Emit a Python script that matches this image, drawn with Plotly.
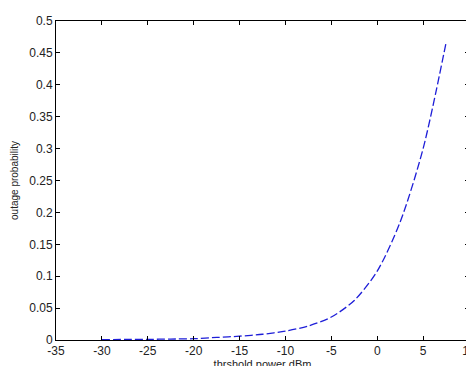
import plotly.graph_objects as go

# threshold power (dBm) and outage probability
threshold_dbm = [-30, -27.5, -25, -22.5, -20, -17.5, -15, -12.5, -10, -7.5, -5, -2.5, 0, 2.5, 5, 7.5]
outage_prob = [0.0005, 0.0008, 0.001, 0.0015, 0.002, 0.004, 0.006, 0.009, 0.014, 0.022, 0.036, 0.062, 0.108, 0.185, 0.300, 0.466]

x_ticks = [-35, -30, -25, -20, -15, -10, -5, 0, 5, 10]
x_tick_labels = ["-35", "-30", "-25", "-20", "-15", "-10", "-5", "0", "5", "10"]
y_ticks = [0, 0.05, 0.1, 0.15, 0.2, 0.25, 0.3, 0.35, 0.4, 0.45, 0.5]
y_tick_labels = ["0", "0.05", "0.1", "0.15", "0.2", "0.25", "0.3", "0.35", "0.4", "0.45", "0.5"]

FONT = "Liberation Sans, Arial, sans-serif"

fig = go.Figure()
fig.add_trace(go.Scatter(
    x=threshold_dbm, y=outage_prob, mode="lines",
    line=dict(color="#1e1ed8", width=1.3, dash="8px,3px", shape="spline", smoothing=0.8),
    showlegend=False, hoverinfo="skip",
))

axis_common = dict(
    showline=True, linecolor="black", linewidth=1, mirror="ticks",
    ticks="inside", ticklen=4, tickcolor="black", tickwidth=1,
    showgrid=False, zeroline=False,
    tickfont=dict(family=FONT, size=12, color="#222"),
)

fig.update_layout(
    width=474, height=366,
    margin=dict(l=48, r=8, t=6, b=30),
    paper_bgcolor="white", plot_bgcolor="white",
    xaxis=dict(range=[-35, 10], tickvals=x_ticks, ticktext=x_tick_labels,
               title=dict(text="thrshold power dBm", standoff=2,
                          font=dict(family=FONT, size=11, color="#222")),
               **axis_common),
    yaxis=dict(range=[0, 0.5], tickvals=y_ticks, ticktext=y_tick_labels,
               title=dict(text="outage probability", standoff=8,
                          font=dict(family=FONT, size=10, color="#222")),
               **axis_common),
)

fig.write_html("out.html")
